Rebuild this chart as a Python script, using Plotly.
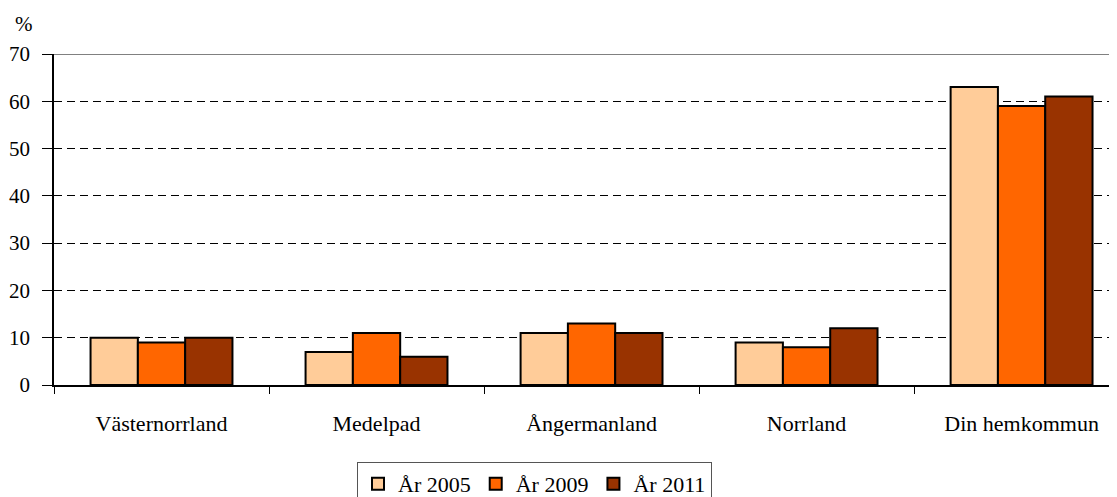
import plotly.graph_objects as go

categories = ["Västernorrland", "Medelpad", "Ångermanland", "Norrland", "Din hemkommun"]
series_names = ["År 2005", "År 2009", "År 2011"]
values_2005 = [10, 7, 11, 9, 63]
values_2009 = [9, 11, 13, 8, 59]
values_2011 = [10, 6, 11, 12, 61]

colors = ["#FFCC99", "#FF6600", "#993300"]
font_family = "Liberation Serif, Times New Roman, serif"

# page body has an 8px margin, so the figure is shifted by 8px; compensate in margins
W, H = 1117, 497
off = 8

fig = go.Figure()

for name, vals, col in zip(series_names, [values_2005, values_2009, values_2011], colors):
    fig.add_trace(
        go.Bar(
            x=categories,
            y=vals,
            name=name,
            marker=dict(color=col, line=dict(color="black", width=2)),
        )
    )

# Solid grey line at the top of the plot area (70)
fig.add_shape(
    type="line", xref="paper", yref="y", x0=0, x1=1, y0=70, y1=70,
    line=dict(color="#808080", width=2),
)

fig.add_annotation(
    text="%", xref="paper", yref="paper", x=-0.028, y=1.09,
    xanchor="center", yanchor="middle",
    showarrow=False, font=dict(size=21, family=font_family, color="black"),
)

fig.update_layout(
    width=W,
    height=H,
    margin=dict(l=54 - off, r=0, t=54 - off, b=H - 385 + off),
    plot_bgcolor="white",
    paper_bgcolor="white",
    font=dict(family=font_family, size=22, color="black"),
    barmode="group",
    bargap=0.34,
    bargroupgap=0,
    xaxis=dict(
        type="category",
        range=[-0.5, 4.481],
        automargin=False,
        showline=True,
        linecolor="black",
        linewidth=1.5,
        ticks="outside",
        tickson="boundaries",
        ticklen=7,
        tickcolor="black",
        showgrid=False,
        ticklabelstandoff=18,
        tickfont=dict(size=22),
    ),
    yaxis=dict(
        range=[0, 70],
        dtick=10,
        automargin=False,
        showline=True,
        linecolor="black",
        linewidth=1.5,
        ticks="outside",
        ticklen=10,
        tickcolor="black",
        showgrid=True,
        gridcolor="black",
        gridwidth=1,
        griddash="8px,5px",
        zeroline=False,
        ticklabelstandoff=8,
        tickfont=dict(size=21),
    ),
    legend=dict(
        orientation="h",
        xref="container",
        yref="container",
        x=(357 - off) / W,
        xanchor="left",
        y=1 - (462 - off) / H,
        yanchor="top",
        bordercolor="#555555",
        borderwidth=1,
        font=dict(size=22, family=font_family),
        itemwidth=30,
        tracegroupgap=0,
    ),
    showlegend=True,
)

fig.write_html("out.html")
